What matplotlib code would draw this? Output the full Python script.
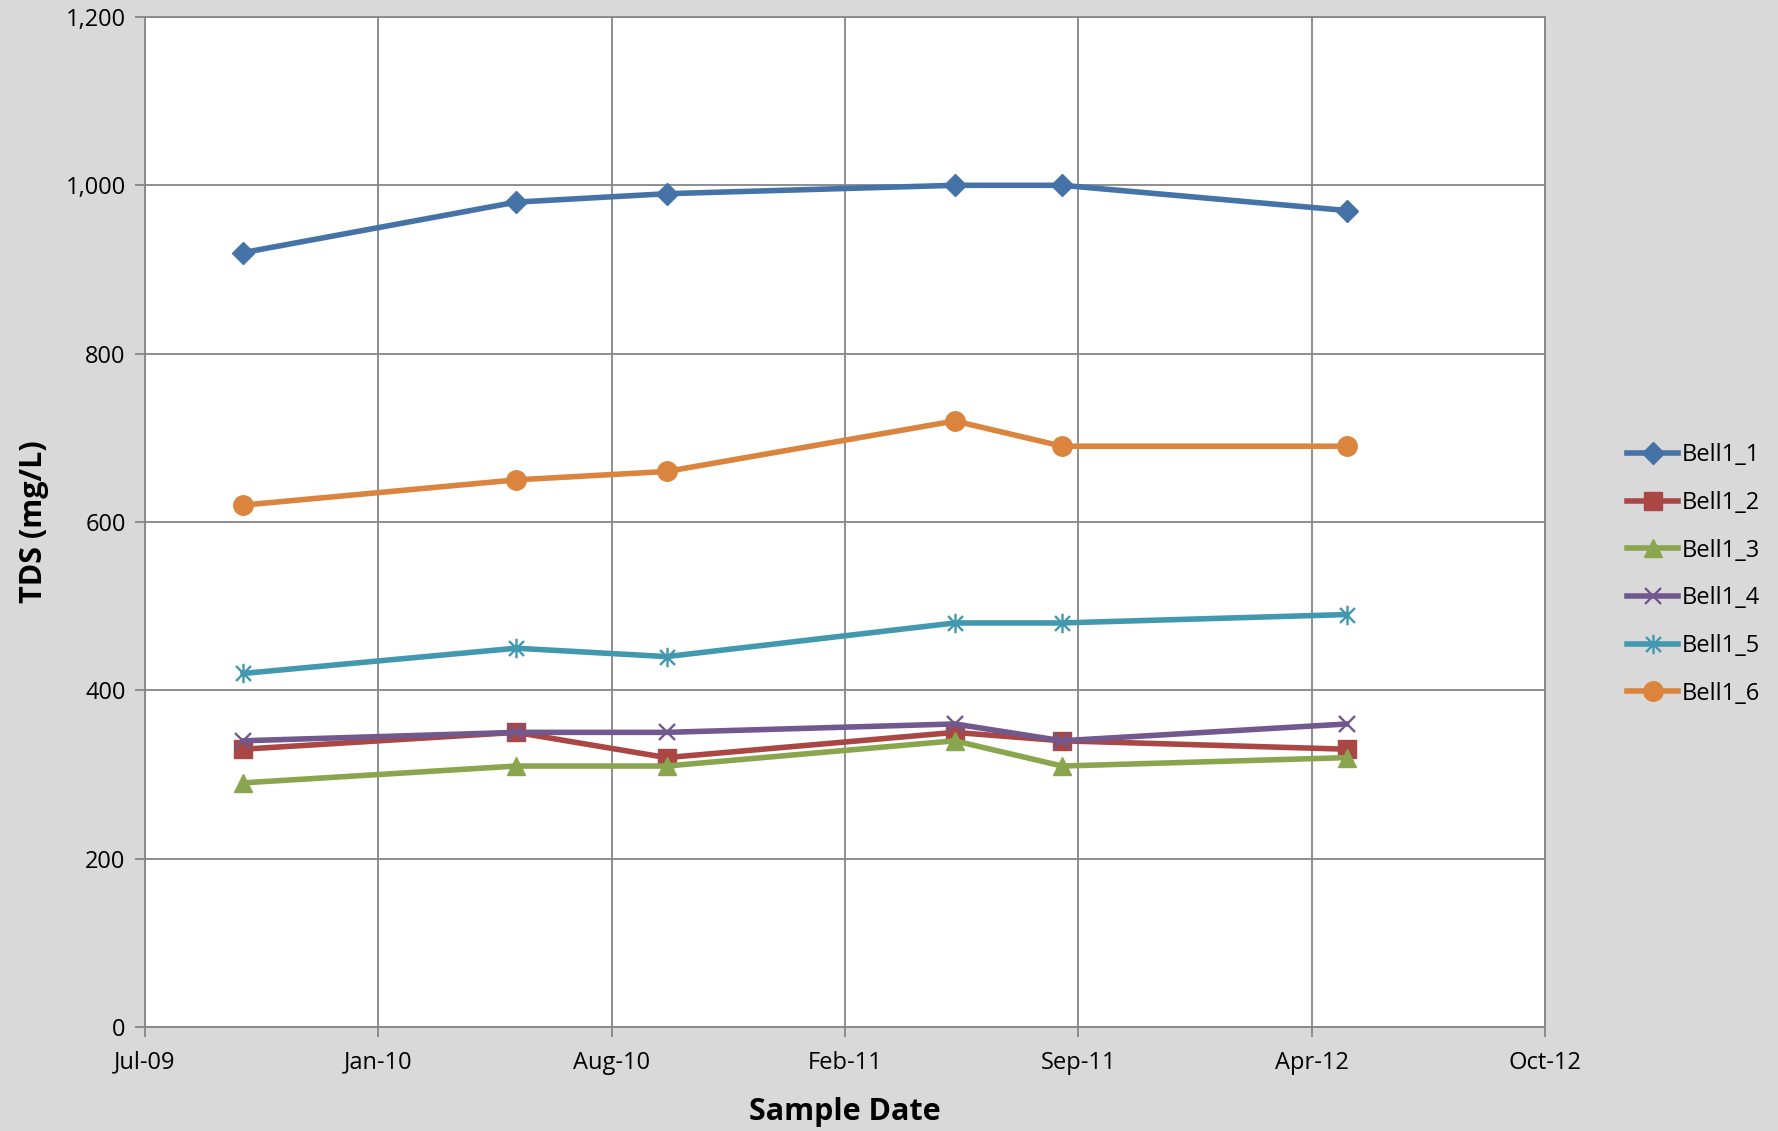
import numpy as np
import matplotlib
matplotlib.use("Agg")
import matplotlib.pyplot as plt
import matplotlib.dates as mdates
from matplotlib.path import Path
from matplotlib.ticker import FuncFormatter, MultipleLocator
import datetime as dt

plt.rcParams['font.family'] = ['Open Sans', 'DejaVu Sans']

# sample dates
dates = ["2009-09-28", "2010-05-20", "2010-09-26", "2011-05-31", "2011-08-31", "2012-05-01"]

bell1_1 = [920, 980, 990, 1000, 1000, 970]
bell1_2 = [330, 350, 320, 350, 340, 330]
bell1_3 = [290, 310, 310, 340, 310, 320]
bell1_4 = [340, 350, 350, 360, 340, 360]
bell1_5 = [420, 450, 440, 480, 480, 490]
bell1_6 = [620, 650, 660, 720, 690, 690]

names = ["Bell1_1", "Bell1_2", "Bell1_3", "Bell1_4", "Bell1_5", "Bell1_6"]

x = [dt.datetime.strptime(d, "%Y-%m-%d") for d in dates]

# excel-style asterisk marker (x with a vertical bar)
star = Path([(-1, -1), (1, 1), (-1, 1), (1, -1), (0, -1.3), (0, 1.3)],
            [Path.MOVETO, Path.LINETO, Path.MOVETO, Path.LINETO, Path.MOVETO, Path.LINETO])

styles = [
    dict(color="#4572A7", marker="D", ms=11),
    dict(color="#AA4643", marker="s", ms=12.5),
    dict(color="#89A54E", marker="^", ms=13),
    dict(color="#71588F", marker="x", ms=12, mew=1.7),
    dict(color="#4198AF", marker=star, ms=14, mew=1.7, mfc="none"),
    dict(color="#DB843D", marker="o", ms=14),
]
series = [bell1_1, bell1_2, bell1_3, bell1_4, bell1_5, bell1_6]

fig = plt.figure(figsize=(17.78, 11.31), dpi=100, facecolor="#D9D9D9")
ax = fig.add_axes([0.0816, 0.092, 0.7874, 0.893])
ax.set_facecolor("white")

for name, vals, st in zip(names, series, styles):
    ax.plot(x, vals, lw=4.0, label=name, **st)

# excel date axis: 200-day steps starting 6-Jul-2009
x0 = dt.datetime(2009, 7, 6)
xticks = [x0 + dt.timedelta(days=200 * i) for i in range(7)]
ax.set_xlim(xticks[0], xticks[-1])
ax.set_xticks(xticks)
ax.xaxis.set_major_formatter(mdates.DateFormatter("%b-%y"))

ax.set_ylim(0, 1200)
ax.yaxis.set_major_locator(MultipleLocator(200))
ax.yaxis.set_major_formatter(FuncFormatter(lambda v, p: f"{int(v):,}"))

ax.grid(True, color="#868686", lw=1.3)
ax.set_axisbelow(True)
for s in ax.spines.values():
    s.set_color("#868686")
    s.set_linewidth(1.3)
ax.tick_params(axis="both", colors="#868686", labelcolor="black", labelsize=17,
               length=7, width=1.3, direction="out")
ax.tick_params(axis="x", pad=10)
ax.tick_params(axis="y", pad=7)

ax.set_xlabel("Sample Date", fontsize=22, fontweight="bold", labelpad=16)
ax.set_ylabel("TDS (mg/L)", fontsize=22, fontweight="bold", labelpad=12)

leg = ax.legend(loc="center left", bbox_to_anchor=(1.043, 0.448), frameon=False,
                fontsize=17, handlelength=2.2, labelspacing=1.0, handletextpad=0.15)

fig.savefig("out.png", dpi=100, facecolor=fig.get_facecolor())
